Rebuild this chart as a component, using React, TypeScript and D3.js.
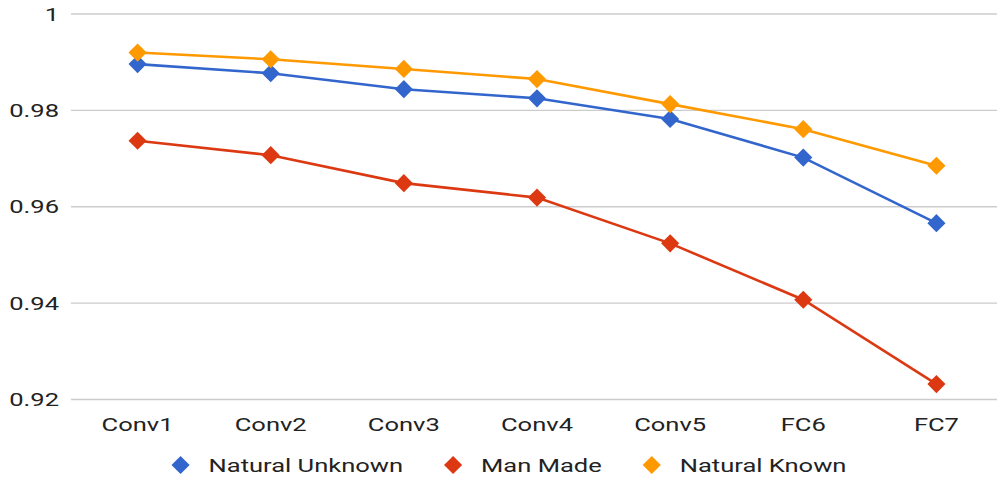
import React, { useEffect, useRef } from 'react';
import * as d3 from 'd3';

const categories = ['Conv1', 'Conv2', 'Conv3', 'Conv4', 'Conv5', 'FC6', 'FC7'];
const naturalUnknown = [0.9896, 0.9877, 0.9844, 0.9825, 0.9782, 0.9702, 0.9566];
const manMade = [0.9737, 0.9707, 0.9649, 0.9619, 0.9524, 0.9407, 0.9232];
const naturalKnown = [0.992, 0.9906, 0.9886, 0.9865, 0.9813, 0.9761, 0.9685];
const yTicks = [0.92, 0.94, 0.96, 0.98, 1];
const seriesNames = ['Natural Unknown', 'Man Made', 'Natural Known'];
const seriesColors = ['#3366cc', '#dc3912', '#ff9900'];

const W = 997;
const H = 479;
const SX = 1.38; // the reference text is stretched sideways

const App = () => {
  const ref = useRef<SVGSVGElement>(null);

  useEffect(() => {
    const svg = d3.select(ref.current);
    svg.selectAll('*').remove();

    const margin = { top: 14, right: -6, bottom: 79.5, left: 71 };
    const font = 'Roboto, Arial, sans-serif';

    const addText = (parent: any, tx: number, ty: number, str: string, anchor: string) =>
      parent
        .append('text')
        .attr('transform', `translate(${tx}, ${ty}) scale(${SX}, 1)`)
        .attr('dy', '0.36em')
        .attr('text-anchor', anchor)
        .style('font-family', font)
        .style('font-size', '18.5px')
        .style('fill', '#222')
        .text(str);

    const x = d3
      .scalePoint()
      .domain(categories)
      .range([margin.left, W - margin.right])
      .padding(0.5);

    const y = d3
      .scaleLinear()
      .domain([0.92, 1])
      .range([H - margin.bottom, margin.top]);

    // gridlines
    svg
      .append('g')
      .selectAll('line')
      .data(yTicks)
      .enter()
      .append('line')
      .attr('x1', margin.left)
      .attr('x2', W)
      .attr('y1', (d) => y(d))
      .attr('y2', (d) => y(d))
      .attr('stroke', '#cccccc')
      .attr('stroke-width', 1.3);

    // y labels
    const yl = svg.append('g');
    yTicks.forEach((d) => addText(yl, 59, y(d), d === 1 ? '1' : d3.format('.2f')(d), 'end'));

    // x labels
    const xl = svg.append('g');
    categories.forEach((c) => addText(xl, x(c)!, 424, c, 'middle'));

    const series = [naturalUnknown, manMade, naturalKnown];
    const diamond = d3.symbol().type(d3.symbolDiamond2).size(210);

    const line = d3
      .line<number>()
      .x((_, i) => x(categories[i])!)
      .y((d) => y(d));

    series.forEach((vals, s) => {
      const g = svg.append('g');
      g.append('path')
        .attr('d', line(vals))
        .attr('fill', 'none')
        .attr('stroke', seriesColors[s])
        .attr('stroke-width', 2.6);
      g.selectAll('path.pt')
        .data(vals)
        .enter()
        .append('path')
        .attr('class', 'pt')
        .attr('d', diamond)
        .attr('transform', (d, i) => `translate(${x(categories[i])}, ${y(d)})`)
        .attr('fill', seriesColors[s]);
    });

    // legend
    const legend = svg.append('g');
    let cx = 0;
    seriesNames.forEach((name, i) => {
      const g = legend.append('g').attr('transform', `translate(${cx}, 465)`);
      g.append('path').attr('d', diamond).attr('fill', seriesColors[i]);
      const t = addText(g, 28, 0, name, 'start');
      const tw = (t.node() as SVGTextElement).getComputedTextLength() * SX;
      cx += 28 + tw + 50;
    });
    const totalW = cx - 50 + 10;
    legend.attr('transform', `translate(${(169 + 848) / 2 - totalW / 2 + 10}, 0)`);
  }, []);

  return (
    <svg
      ref={ref}
      width={W}
      height={H}
      style={{ position: 'absolute', left: 0, top: 0, background: '#fff' }}
    />
  );
};

export default App;
